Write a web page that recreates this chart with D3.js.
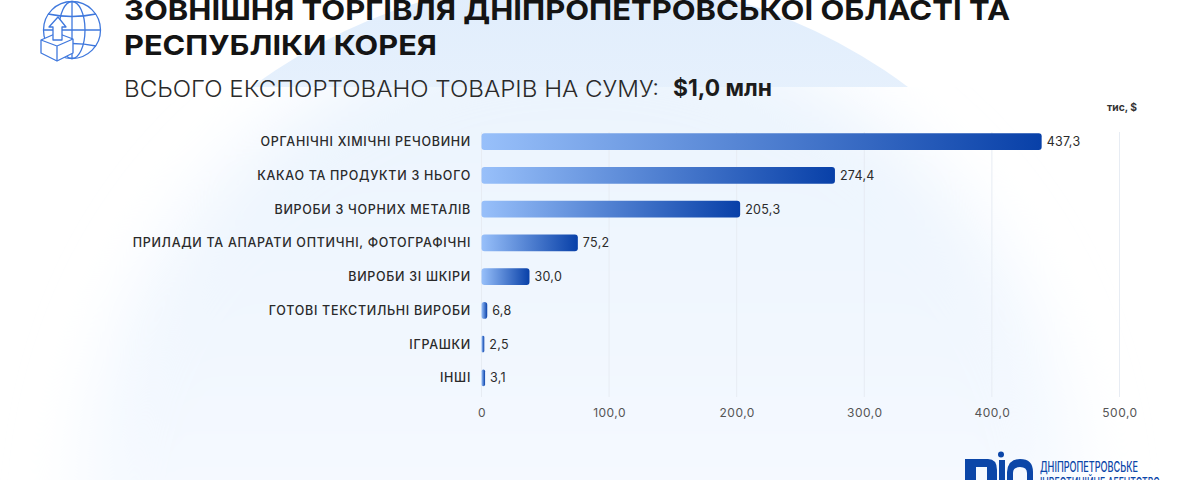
<!DOCTYPE html>
<html lang="uk"><head><meta charset="utf-8">
<script src="https://cdn.jsdelivr.net/npm/d3@7/dist/d3.min.js"></script>
<style>html,body{margin:0;padding:0;background:#fff}svg{display:block}text{font-family:Inter,"Open Sans",sans-serif}</style>
</head><body><svg id="c" width="1200" height="480"></svg>
<script>
const categories=["ОРГАНІЧНІ ХІМІЧНІ РЕЧОВИНИ","КАКАО ТА ПРОДУКТИ З НЬОГО","ВИРОБИ З ЧОРНИХ МЕТАЛІВ","ПРИЛАДИ ТА АПАРАТИ ОПТИЧНІ, ФОТОГРАФІЧНІ","ВИРОБИ ЗІ ШКІРИ","ГОТОВІ ТЕКСТИЛЬНІ ВИРОБИ","ІГРАШКИ","ІНШІ"];
// printed value labels
const values=[437.3,274.4,205.3,75.2,30.0,6.8,2.5,3.1];
// bar lengths as measured against the axis: the reference's bars do not agree exactly with its printed labels
const barLengths=[439,277,202.7,75.5,37.6,4.5,2.2,2.8];
const xTicks=[0,100,200,300,400,500];
const titleLines=["ЗОВНІШНЯ ТОРГІВЛЯ ДНІПРОПЕТРОВСЬКОЇ ОБЛАСТІ ТА","РЕСПУБЛІКИ КОРЕЯ"];
const subtitle="ВСЬОГО ЕКСПОРТОВАНО ТОВАРІВ НА СУМУ:";
const total="$1,0 млн";
const unit="тис, $";
const agency=["ДНІПРОПЕТРОВСЬКЕ","ІНВЕСТИЦІЙНЕ АГЕНТСТВО"];

const fmt=v=>d3.format(".1f")(v).replace(".",",");
const svg=d3.select("#c"),defs=svg.append("defs");
const x=d3.scaleLinear().domain([0,500]).range([481.5,1119.5]);
const y=d3.scaleBand().domain(categories).range([124.7,394.7]).paddingInner(0.5).paddingOuter(0.25);

// background
const cg=defs.append("linearGradient").attr("id","bgc").attr("x1",0).attr("x2",0).attr("y1",0).attr("y2",1);
[[0,"#e0edfc"],[0.25,"#eef5fd"],[1,"#fbfdff"]].forEach(s=>cg.append("stop").attr("offset",s[0]).attr("stop-color",s[1]));
const lg2=defs.append("linearGradient").attr("id","bgl").attr("x1",0).attr("x2",0).attr("y1",0).attr("y2",1);
[[0,"#eaf3fd"],[0.3,"#f1f7fe"],[0.6,"#f8fbff"],[1,"#fbfdff"]].forEach(s=>lg2.append("stop").attr("offset",s[0]).attr("stop-color",s[1]));
defs.append("filter").attr("id","blur").attr("x","-30%").attr("y","-30%").attr("width","160%").attr("height","160%").append("feGaussianBlur").attr("stdDeviation",34);
defs.append("clipPath").attr("id","topClip").append("rect").attr("width",1200).attr("height",87);
defs.append("clipPath").attr("id","lowClip").append("rect").attr("y",87).attr("width",1200).attr("height",393);
svg.append("g").attr("clip-path","url(#topClip)").append("circle").attr("cx",580).attr("cy",526).attr("r",548).attr("fill","url(#bgc)");
svg.append("g").attr("clip-path","url(#lowClip)").append("circle").attr("cx",580).attr("cy",526).attr("r",500).attr("fill","url(#bgl)").attr("filter","url(#blur)");

// text fitted to measured widths
function put(t,px,py,size,weight,width,color,anchor){
  const e=svg.append("text").attr("x",px).attr("y",py).attr("font-size",size).attr("font-weight",weight).attr("fill",color).attr("text-anchor",anchor||"start").text(t);
  if(width)e.attr("textLength",width).attr("lengthAdjust","spacingAndGlyphs");
  return e;
}
put(titleLines[0],124,20,27.5,700,886,"#141414");
put(titleLines[1],124,55,27.5,700,313,"#141414");
put(subtitle,124,97,22.5,300,535,"#2a2a2a");
put(total,673,96,22.5,700,99,"#1c1c1c");
put(unit,1137,111,10.5,700,30,"#333","end");

// grid and axis
const grid=svg.append("g");
grid.selectAll("line").data(xTicks).join("line").attr("x1",d=>x(d)).attr("x2",d=>x(d)).attr("y1",132).attr("y2",397).attr("stroke","#e7ecf3").attr("stroke-width",1);
const axis=svg.append("g").attr("transform","translate(0,397)").call(d3.axisBottom(x).tickValues(xTicks).tickSize(0).tickPadding(11).tickFormat(d=>d===0?"0":fmt(d)));
axis.select(".domain").remove();
axis.selectAll("text").attr("font-size",12).attr("font-family","Inter").attr("fill","#555").attr("letter-spacing",0.5);

// bars
const g=defs.selectAll(".bg").data(barLengths).join("linearGradient").attr("id",(d,i)=>"bar"+i);
g.append("stop").attr("offset",0).attr("stop-color","#98c0fa");
g.append("stop").attr("offset",1).attr("stop-color","#0840a8");
const xb=x(0);
svg.append("g").selectAll("rect").data(barLengths).join("rect")
 .attr("x",xb).attr("y",(d,i)=>y(categories[i])).attr("width",d=>x(d)-xb).attr("height",y.bandwidth())
 .attr("rx",d=>Math.min(3,(x(d)-xb)/2)).attr("fill",(d,i)=>"url(#bar"+i+")");
svg.append("g").selectAll("text").data(values).join("text")
 .attr("x",(d,i)=>x(barLengths[i])+5).attr("y",(d,i)=>y(categories[i])+y.bandwidth()/2).attr("dy","0.36em")
 .attr("font-size",12.5).attr("fill","#2b2b2b").attr("letter-spacing",0.3).text(fmt);
svg.append("g").selectAll("text").data(categories).join("text")
 .attr("x",471).attr("y",d=>y(d)+y.bandwidth()/2).attr("dy","0.36em").attr("text-anchor","end")
 .attr("font-size",12.5).attr("font-weight",500).attr("fill","#2a2a2a").attr("letter-spacing",0.7).text(d=>d);

// globe icon
const ic=svg.append("g").attr("fill","none").attr("stroke","#3f78dd").attr("stroke-width",1.3).attr("stroke-linejoin","round");
ic.append("circle").attr("cx",72).attr("cy",30).attr("r",28.5);
ic.append("ellipse").attr("cx",72).attr("cy",30).attr("rx",13).attr("ry",28.5);
ic.append("line").attr("x1",72).attr("x2",72).attr("y1",1.5).attr("y2",58.5);
ic.append("line").attr("x1",43.5).attr("x2",100.5).attr("y1",30).attr("y2",30);
ic.append("path").attr("d","M48 14 Q72 19 96 14 M48 46 Q72 41 96 46");
ic.append("path").attr("fill","#fff").attr("d","M41 40 L57 33 L73 39 L73 53 L57 61 L41 53 Z");
ic.append("path").attr("d","M41 40 L57 46 L73 39 M57 46 L57 61");
ic.append("path").attr("fill","#fff").attr("d","M53 40 L53 27 L49 27 L58 17 L66 27 L62 27 L62 40 Z");

// agency logo, cropped by the page edge
const lg=svg.append("g");
lg.append("path").attr("fill","#0b46a8").attr("fill-rule","evenodd").attr("d","M965 459 H988 Q997 459 997 470 V482 H965 Z M976 467 V482 H987 V467 Z");
lg.append("rect").attr("x",999).attr("y",460).attr("width",6).attr("height",22).attr("fill","#0b46a8");
lg.append("circle").attr("cx",1001).attr("cy",454.5).attr("r",3).attr("fill","#0b46a8");
lg.append("path").attr("fill","#0b46a8").attr("fill-rule","evenodd").attr("d","M1007 482 V472 Q1008 459 1020 459 Q1033 459 1033 472 V482 Z M1013 482 H1027 V473 Q1027 467 1020 467 Q1013 467 1013 473 Z");
put(agency[0],1040,472,14,500,98,"#0b46a8");
put(agency[1],1040,488,14,500,120,"#0b46a8");
</script></body></html>
